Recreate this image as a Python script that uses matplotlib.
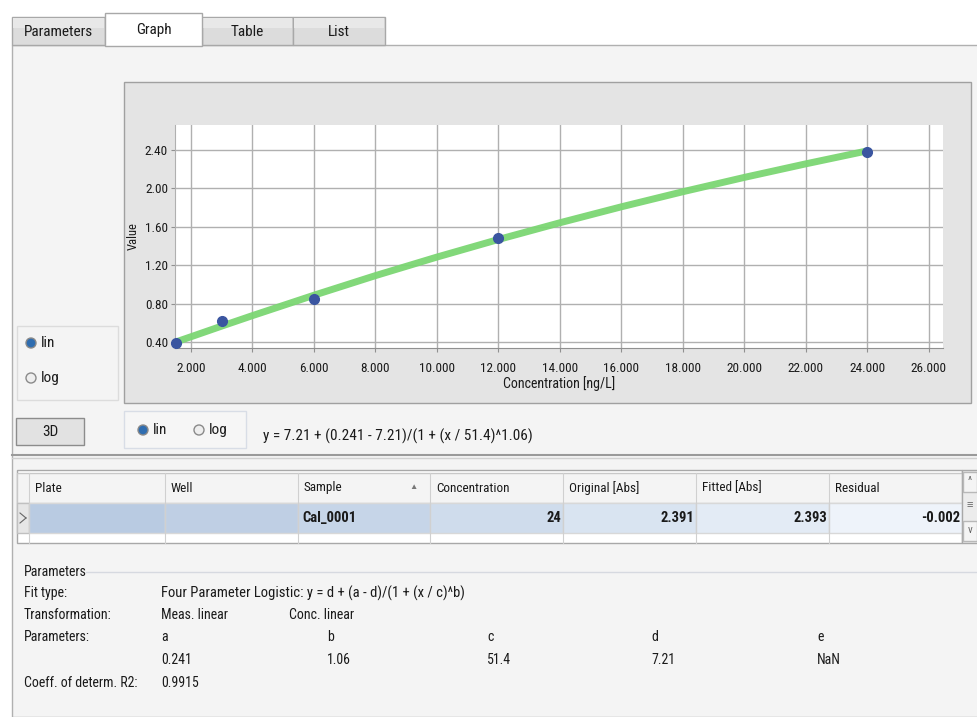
import matplotlib
matplotlib.use("Agg")
import matplotlib.pyplot as plt
from matplotlib.patches import Rectangle, Circle
from matplotlib.ticker import FixedLocator

plt.rcParams['font.family'] = ['Roboto Condensed', 'PT Sans Narrow', 'Liberation Sans', 'DejaVu Sans']

# calibration points
conc = [1.5, 3, 6, 12, 24]
measured = [0.39, 0.62, 0.85, 1.48, 2.38]

# fitted curve
curve_x = [1.5, 2, 3, 4, 6, 8, 10, 12, 14, 16, 18, 20, 22, 24]
curve_y = [0.402, 0.457, 0.568, 0.677, 0.889, 1.093, 1.286, 1.469, 1.643,
           1.809, 1.966, 2.115, 2.256, 2.391]

x_ticks = [2, 4, 6, 8, 10, 12, 14, 16, 18, 20, 22, 24, 26]
x_ticklabels = ["2.000", "4.000", "6.000", "8.000", "10.000", "12.000", "14.000",
                "16.000", "18.000", "20.000", "22.000", "24.000", "26.000"]
y_ticks = [0.4, 0.8, 1.2, 1.6, 2.0, 2.4]
y_ticklabels = ["0.40", "0.80", "1.20", "1.60", "2.00", "2.40"]

tabs = ["Parameters", "Graph", "Table", "List"]
columns = ["Plate", "Well", "Sample", "Concentration", "Original [Abs]", "Fitted [Abs]", "Residual"]
row_values = ["", "", "Cal_0001", "24", "2.391", "2.393", "-0.002"]
param_names = ["a", "b", "c", "d", "e"]
param_values = ["0.241", "1.06", "51.4", "7.21", "NaN"]
equation = "y = 7.21 + (0.241 - 7.21)/(1 + (x / 51.4)^1.06)"

W, H = 978, 717
fig = plt.figure(figsize=(W / 100, H / 100), dpi=100)
fig.patch.set_facecolor("white")

ui = fig.add_axes([0, 0, 1, 1])
ui.set_xlim(0, W)
ui.set_ylim(H, 0)
ui.axis("off")

def box(x, y, w, h, fc, ec="none", lw=1, z=1):
    ui.add_patch(Rectangle((x, y), w, h, facecolor=fc, edgecolor=ec, linewidth=lw, zorder=z))

def txt(x, y, s, size=10, ha="left", weight="normal", z=5, color="#1a1a1a"):
    ui.text(x, y, s, fontsize=size, ha=ha, va="center", fontweight=weight, color=color, zorder=z)

# main panel
box(12, 45, W - 12, H - 45, "#f4f4f4", "#b0b0b0")

# tabs
tab_x = [12, 105, 202, 293, 385]
for i, name in enumerate(tabs):
    x0, x1 = tab_x[i], tab_x[i + 1]
    if name == "Graph":
        box(x0, 13, x1 - x0, 33, "white", "#a8a8a8", z=3)
        txt((x0 + x1) / 2, 30, name, size=11, ha="center")
    else:
        box(x0, 17, x1 - x0, 28, "#dcdcdc", "#a8a8a8", z=2)
        box(x0 + 1, 18, x1 - x0 - 2, 10, "#e8e8e8", z=2)
        txt((x0 + x1) / 2, 32, name, size=11, ha="center")

# chart frame
box(124, 82, 847, 321, "#e4e4e4", "#a0a0a0")

# left lin/log box
box(17, 326, 101, 74, "#f4f4f4", "#dcdcdc")
for yy, lab, sel in [(343, "lin", True), (378, "log", False)]:
    ui.add_patch(Circle((31, yy), 5, facecolor="#2f6db0" if sel else "#eeeeee",
                        edgecolor="#8a8a8a", lw=1, zorder=4))
    txt(41, yy, lab, size=11)

# 3D button
box(16, 418, 68, 27, "#e2e2e2", "#8c8c8c")
txt(50, 432, "3D", size=11, ha="center")

# bottom lin/log box
box(124, 411, 122, 37, "#f6f6f6", "#d8dde6")
for xx, lab, sel in [(143, "lin", True), (199, "log", False)]:
    ui.add_patch(Circle((xx, 430), 5, facecolor="#2f6db0" if sel else "#eeeeee",
                        edgecolor="#8a8a8a", lw=1, zorder=4))
    txt(xx + 10, 430, lab, size=11)
txt(263, 436, equation, size=11)

# separator
ui.plot([12, W], [455, 455], color="#9a9a9a", lw=1.5, zorder=3)
ui.plot([12, W], [458, 458], color="#d0d0d0", lw=1, zorder=3)

# table
box(17, 470, 945, 73, "white", "#a8a8a8")
col_x = [29, 165, 298, 430, 563, 696, 829, 962]
box(17, 473, 945, 30, "#f4f4f4", "#c8c8c8")
box(17, 503, 12, 30, "#e6e6e6", "#c0c0c0")
row_cols = ["#b9cbe2", "#bfcfe4", "#c6d5e8", "#cfdcec", "#d9e4f1", "#e3ebf5", "#eef3fa"]
for i, name in enumerate(columns):
    x0, x1 = col_x[i], col_x[i + 1]
    ui.plot([x0, x0], [473, 543], color="#d0d0d0", lw=0.8, zorder=3)
    txt(x0 + 6, 488, name, size=9.5)
    box(x0, 503, x1 - x0, 30, row_cols[i], "#d8d8d8")
    if row_values[i]:
        if i == 2:
            txt(x0 + 4, 518, row_values[i], size=10.5, weight="bold")
        else:
            txt(x1 - 2, 518, row_values[i], size=10.5, ha="right", weight="bold")
txt(409, 487, "\u25b2", size=6, color="#777777")
ui.plot([20, 26], [513, 518], color="#666666", lw=0.8, zorder=4)
ui.plot([20, 26], [523, 518], color="#666666", lw=0.8, zorder=4)
box(962, 470, 16, 73, "#ececec", "#a8a8a8")
box(963, 472, 14, 20, "#f4f4f4", "#b8b8b8", z=2)
box(963, 521, 14, 20, "#f4f4f4", "#b8b8b8", z=2)
txt(970, 481, "^", size=8, ha="center", color="#666666")
txt(970, 505, "\u2261", size=8, ha="center", color="#666666")
txt(970, 530, "v", size=8, ha="center", color="#666666")

# parameters section
txt(24, 572, "Parameters", size=10)
ui.plot([86, W], [572, 572], color="#d6d9e0", lw=1, zorder=3)
txt(24, 593, "Fit type:", size=10)
txt(161, 593, "Four Parameter Logistic: y = d + (a - d)/(1 + (x / c)^b)", size=10.5)
txt(24, 615, "Transformation:", size=10)
txt(161, 615, "Meas. linear", size=10)
txt(289, 615, "Conc. linear", size=10)
txt(24, 637, "Parameters:", size=10)
param_x = [161, 327, 487, 651, 817]
for px, n, v in zip(param_x, param_names, param_values):
    txt(px, 637, n, size=10)
    txt(px, 660, v, size=10)
txt(24, 683, "Coeff. of determ. R2:", size=10)
txt(161, 683, "0.9915", size=10)

# the chart itself
ax = fig.add_axes([175 / W, 1 - 348 / H, (943 - 175) / W, (348 - 125) / H])
ax.set_facecolor("white")
ax.set_xlim(1.48, 26.46)
ax.set_ylim(0.34, 2.66)
ax.xaxis.set_major_locator(FixedLocator(x_ticks))
ax.yaxis.set_major_locator(FixedLocator(y_ticks))
ax.set_xticklabels(x_ticklabels, fontsize=9.5)
ax.set_yticklabels(y_ticklabels, fontsize=9.5)
ax.grid(True, color="#b0b0b0", lw=1)
ax.set_axisbelow(True)
for s in ["top", "right"]:
    ax.spines[s].set_visible(False)
ax.spines["left"].set_color("#b0b0b0")
ax.spines["bottom"].set_color("#909090")
ax.tick_params(axis="x", length=3, color="#909090", pad=7, labelcolor="#1a1a1a")
ax.tick_params(axis="y", length=3, color="#909090", pad=2, labelcolor="#1a1a1a")

ax.plot(curve_x, curve_y, color="#7bd673", lw=5, alpha=0.95, solid_capstyle="butt", zorder=3)
ax.plot(conc, measured, "o", color="#3a55a0", markersize=7, zorder=4, clip_on=False)

ax.set_xlabel("Concentration [ng/L]", fontsize=10, labelpad=1, color="#1a1a1a")
ax.set_ylabel("Value", fontsize=9, labelpad=4, color="#1a1a1a")

fig.savefig("out.png", dpi=100)
